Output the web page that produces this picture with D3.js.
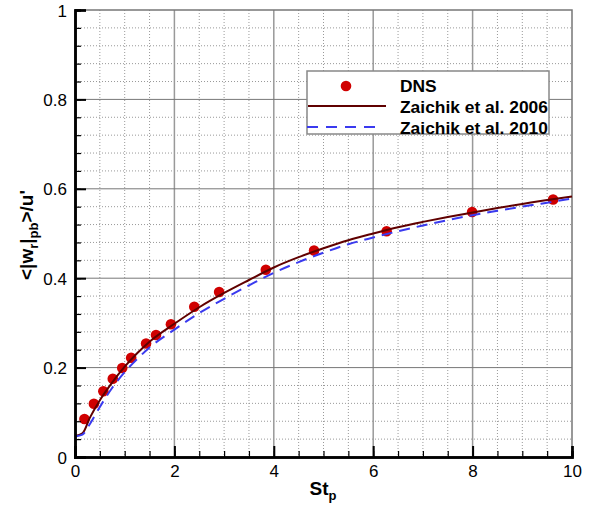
<!DOCTYPE html>
<html><head><meta charset="utf-8">
<script src="https://cdn.jsdelivr.net/npm/d3@7"></script>
<style>body{margin:0;background:#fff}svg{display:block;font-family:"Liberation Sans",Arial,sans-serif}</style>
</head><body>
<svg id="c" width="590" height="508"></svg>
<script>
const dnsX = [0.19, 0.38, 0.57, 0.76, 0.95, 1.13, 1.43, 1.63, 1.93, 2.40, 2.90, 3.84, 4.81, 6.27, 7.99, 9.62];
const dnsY = [0.085, 0.119, 0.147, 0.175, 0.199, 0.222, 0.254, 0.273, 0.297, 0.336, 0.369, 0.419, 0.462, 0.505, 0.548, 0.576];
const curveX = [0, 0.15, 0.3, 0.5, 0.75, 1, 1.25, 1.5, 2, 2.5, 3, 3.5, 4, 4.5, 5, 5.5, 6, 6.5, 7, 7.5, 8, 8.5, 9, 9.5, 10];
const z2006 = [0.047, 0.053, 0.088, 0.127, 0.167, 0.202, 0.232, 0.258, 0.298, 0.335, 0.367, 0.396, 0.424, 0.447, 0.467, 0.485, 0.500, 0.514, 0.526, 0.537, 0.547, 0.557, 0.566, 0.575, 0.583];
const z2010 = [0.046, 0.050, 0.074, 0.112, 0.155, 0.190, 0.219, 0.245, 0.285, 0.322, 0.354, 0.384, 0.412, 0.436, 0.457, 0.476, 0.491, 0.505, 0.518, 0.530, 0.541, 0.551, 0.560, 0.569, 0.578];
const xMajor = [0, 2, 4, 6, 8, 10];
const yMajor = [0, 0.2, 0.4, 0.6, 0.8, 1];
const xMinor = d3.range(0, 10.001, 0.5);
const yMinor = d3.range(0, 1.0001, 0.04);
const legendLabels = ["DNS", "Zaichik et al. 2006", "Zaichik et al. 2010"];

const L = 75, R = 572, T = 10, B = 457;
const x = d3.scaleLinear([0, 10], [L, R]);
const y = d3.scaleLinear([0, 1], [B, T]);
const svg = d3.select("#c");

// minor grid
svg.append("g").selectAll("line").data(xMinor.filter(v => v % 2 !== 0)).join("line")
  .attr("x1", d => x(d)).attr("x2", d => x(d)).attr("y1", T).attr("y2", B)
  .attr("stroke", "#999").attr("stroke-width", 1).attr("stroke-dasharray", "1,2");
svg.append("g").selectAll("line").data(yMinor.filter(v => Math.abs(v / 0.2 - Math.round(v / 0.2)) > 1e-6)).join("line")
  .attr("y1", d => y(d)).attr("y2", d => y(d)).attr("x1", L).attr("x2", R)
  .attr("stroke", "#999").attr("stroke-width", 1).attr("stroke-dasharray", "1,2");
// major grid
svg.append("g").selectAll("line").data(xMajor.slice(1, -1)).join("line")
  .attr("x1", d => x(d)).attr("x2", d => x(d)).attr("y1", T).attr("y2", B)
  .attr("stroke", "#999").attr("stroke-width", 1.5);
svg.append("g").selectAll("line").data(yMajor.slice(1, -1)).join("line")
  .attr("y1", d => y(d)).attr("y2", d => y(d)).attr("x1", L).attr("x2", R)
  .attr("stroke", "#777").attr("stroke-width", 1);
// top/right border
svg.append("path").attr("d", `M${L},${T}H${R}V${B}`).attr("fill", "none").attr("stroke", "#777").attr("stroke-width", 1.5);

// DNS points
svg.append("g").selectAll("circle").data(dnsX.map((v, i) => [v, dnsY[i]])).join("circle")
  .attr("cx", d => x(d[0])).attr("cy", d => y(d[1])).attr("r", 5.3).attr("fill", "#d00000");

const line = d3.line().x(d => x(d[0])).y(d => y(d[1])).curve(d3.curveMonotoneX);
svg.append("path").attr("d", line(curveX.map((v, i) => [v, z2006[i]])))
  .attr("fill", "none").attr("stroke", "#600000").attr("stroke-width", 2);
svg.append("path").attr("d", line(curveX.map((v, i) => [v, z2010[i]])))
  .attr("fill", "none").attr("stroke", "#3a3aef").attr("stroke-width", 2).attr("stroke-dasharray", "11,7");

// axes
const fmt = d => d === 0 ? "0" : d3.format("~g")(d);
const ax = svg.append("g").attr("transform", `translate(0,${B})`)
  .call(d3.axisBottom(x).tickValues(xMajor).tickSize(-11).tickPadding(8).tickFormat(fmt));
const axm = svg.append("g").attr("transform", `translate(0,${B})`)
  .call(d3.axisBottom(x).tickValues(xMinor).tickSize(-6).tickFormat(""));
const ay = svg.append("g").attr("transform", `translate(${L},0)`)
  .call(d3.axisLeft(y).tickValues(yMajor).tickSize(-11).tickPadding(8).tickFormat(fmt));
const aym = svg.append("g").attr("transform", `translate(${L},0)`)
  .call(d3.axisLeft(y).tickValues(yMinor).tickSize(-6).tickFormat(""));
[ax, axm, ay, aym].forEach(g => {
  g.select(".domain").attr("stroke", "#000").attr("stroke-width", 2.5);
  g.selectAll(".tick line").attr("stroke", "#000").attr("stroke-width", 2);
  g.selectAll(".tick text").attr("font-size", 17).attr("fill", "#000").attr("font-family", "Liberation Sans, Arial, sans-serif");
});
axm.selectAll(".tick line").attr("stroke-width", 1.2);
aym.selectAll(".tick line").attr("stroke-width", 1.2);
ay.selectAll(".tick text").attr("dy", "0.36em");
ax.selectAll(".tick text").attr("dy", "0.72em");

// axis titles
const xt = svg.append("text").attr("x", 323).attr("y", 495).attr("text-anchor", "middle")
  .attr("font-size", 19).attr("font-weight", "bold");
xt.append("tspan").text("St");
xt.append("tspan").attr("font-size", 13).attr("dy", 5).text("p");

const yt = svg.append("text").attr("transform", "translate(33,235) rotate(-90)").attr("text-anchor", "middle")
  .attr("font-size", 19).attr("font-weight", "bold");
yt.append("tspan").text("<|w");
yt.append("tspan").attr("font-size", 13).attr("dy", 5).text("r");
yt.append("tspan").attr("dy", -5).text("|");
yt.append("tspan").attr("font-size", 13).attr("dy", 5).text("pb");
yt.append("tspan").attr("dy", -5).text(">/u'");

// legend
const lg = svg.append("g");
lg.append("rect").attr("x", 307).attr("y", 71).attr("width", 242).attr("height", 63)
  .attr("fill", "#fff").attr("stroke", "#888").attr("stroke-width", 1.5);
lg.append("circle").attr("cx", 346).attr("cy", 86).attr("r", 5.3).attr("fill", "#d00000");
lg.append("line").attr("x1", 308).attr("x2", 386).attr("y1", 106).attr("y2", 106)
  .attr("stroke", "#600000").attr("stroke-width", 2);
lg.append("line").attr("x1", 307).attr("x2", 380).attr("y1", 127).attr("y2", 127)
  .attr("stroke", "#3a3aef").attr("stroke-width", 2).attr("stroke-dasharray", "11,8");
lg.selectAll("text").data(legendLabels).join("text")
  .attr("x", 400).attr("y", (d, i) => 91.5 + i * 21).attr("font-size", 17.4).attr("font-weight", "bold").text(d => d);
</script>
</body></html>
